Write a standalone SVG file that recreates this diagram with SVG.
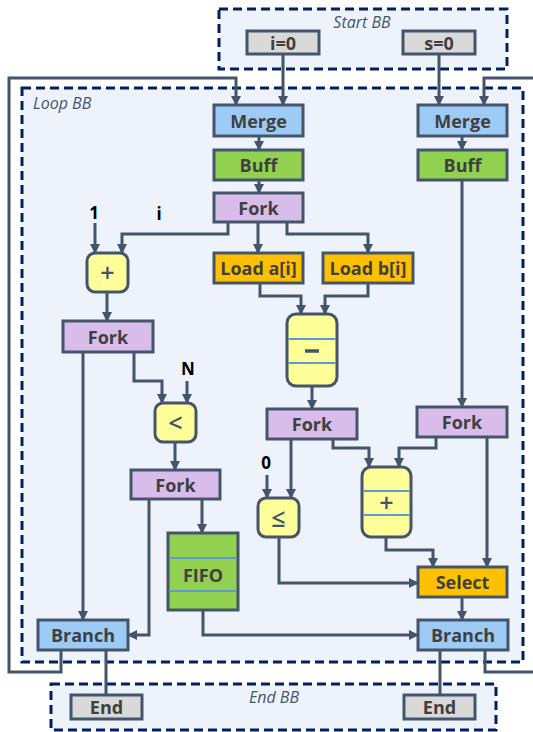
<svg xmlns="http://www.w3.org/2000/svg" width="533" height="732" viewBox="0 0 533 732">
  <style>
    .bb { fill: #EEF3FB; stroke: #002060; stroke-width: 3; stroke-dasharray: 9 5; }
    .bbl { font-family: "Open Sans", "Liberation Sans", sans-serif; font-style: italic; font-size: 16px; fill: #44546A; }
    .n { stroke: #44546A; stroke-width: 3; }
    .t { font-family: "Open Sans", "Liberation Sans", sans-serif; font-weight: 700; font-size: 18px; fill: #404040; text-anchor: middle; dominant-baseline: central; }
    .op { font-family: "Open Sans", "Liberation Sans", sans-serif; font-weight: 600; font-size: 25px; fill: #44546A; text-anchor: middle; dominant-baseline: central; }
    .lbl { font-family: "Open Sans", "Liberation Sans", sans-serif; font-weight: 700; font-size: 17px; fill: #000; text-anchor: middle; dominant-baseline: central; }
    .gray { fill: #D9D9D9; }
    .blue { fill: #9DCBF5; }
    .green { fill: #92D050; }
    .purple { fill: #D8BDEA; }
    .orange { fill: #FFC000; }
    .yellow { fill: #FFFF99; }
    .sep { stroke: #5B9BD5; stroke-width: 2; }
    .c { fill: none; stroke: #44546A; stroke-width: 3; }
    .a { marker-end: url(#ah); }
  </style>
  <defs>
    <marker id="ah" viewBox="0 0 10 10" refX="9" refY="5" markerWidth="10" markerHeight="10" markerUnits="userSpaceOnUse" orient="auto">
      <path d="M0,0 L10,5 L0,10 z" fill="#44546A"/>
    </marker>
  </defs>
  <rect width="533" height="732" fill="#fff"/>

  <!-- basic blocks -->
  <g id="start-bb">
    <rect class="bb" x="219" y="9" width="288" height="60"/>
    <text class="bbl" x="362" y="28" text-anchor="middle">Start BB</text>
  </g>
  <g id="loop-bb">
    <rect class="bb" x="22" y="88" width="501" height="574"/>
    <text class="bbl" x="33" y="109">Loop BB</text>
  </g>
  <g id="end-bb">
    <rect class="bb" x="51" y="684" width="445" height="46"/>
    <text class="bbl" x="274" y="703" text-anchor="middle">End BB</text>
  </g>

  <!-- connectors -->
  <g id="connectors">
    <path class="c a" d="M61,650 V672 H9 V78 H236 V105"/>
    <path class="c a" d="M283,54 V105"/>
    <path class="c a" d="M439,54 V105"/>
    <path class="c a" d="M540,78 H484 V105"/>
    <path class="c a" d="M259,136 V150"/>
    <path class="c a" d="M462,136 V150"/>
    <path class="c a" d="M259,180 V193"/>
    <path class="c a" d="M462,180 V407"/>
    <path class="c a" d="M228,222 V234 H122 V253"/>
    <path class="c a" d="M258,222 V253"/>
    <path class="c a" d="M287,222 V234 H368 V253"/>
    <path class="c a" d="M95,223 V253"/>
    <path class="c a" d="M107,292 V321"/>
    <path class="c a" d="M260,283 V296 H301 V314"/>
    <path class="c a" d="M368,283 V296 H325 V314"/>
    <path class="c a" d="M83,352 V620"/>
    <path class="c a" d="M134,352 V381 H162 V403"/>
    <path class="c a" d="M187,381 V403"/>
    <path class="c a" d="M175,442 V470"/>
    <path class="c a" d="M312,386 V409"/>
    <path class="c a" d="M149,499 V635 H128"/>
    <path class="c a" d="M202,499 V533"/>
    <path class="c a" d="M267,475 V498"/>
    <path class="c a" d="M291,439 V498"/>
    <path class="c a" d="M333,439 V448 H369 V467"/>
    <path class="c a" d="M436,437 V448 H399 V467"/>
    <path class="c a" d="M487,437 V567"/>
    <path class="c a" d="M386,537 V550 H433 V567"/>
    <path class="c a" d="M279,537 V583 H418"/>
    <path class="c a" d="M462,597 V620"/>
    <path class="c a" d="M203,610 V635 H418"/>
    <path class="c" d="M106,650 V695"/>
    <path class="c" d="M440,650 V695"/>
    <path class="c" d="M485,650 V672 H540"/>
  </g>

  <!-- constant inputs -->
  <g id="constants">
    <text class="lbl" x="94" y="212">1</text>
    <text class="lbl" x="159" y="213">i</text>
    <text class="lbl" x="188" y="368">N</text>
    <text class="lbl" x="266" y="462">0</text>
  </g>

  <!-- nodes -->
  <g id="i0"><rect class="n gray" x="247" y="31" width="72" height="23"/><text class="t" x="283" y="42.5">i=0</text></g>
  <g id="s0"><rect class="n gray" x="403" y="31" width="72" height="23"/><text class="t" x="439" y="42.5">s=0</text></g>
  <g id="merge-i"><rect class="n blue" x="214" y="105" width="89" height="31"/><text class="t" x="258.5" y="120.5">Merge</text></g>
  <g id="merge-s"><rect class="n blue" x="418" y="105" width="89" height="31"/><text class="t" x="462.5" y="120.5">Merge</text></g>
  <g id="buff-i"><rect class="n green" x="214" y="150" width="89" height="30"/><text class="t" x="258.5" y="165">Buff</text></g>
  <g id="buff-s"><rect class="n green" x="418" y="150" width="89" height="30"/><text class="t" x="462.5" y="165">Buff</text></g>
  <g id="fork-i"><rect class="n purple" x="214" y="193" width="89" height="29"/><text class="t" x="258.5" y="207.5">Fork</text></g>
  <g id="add-i"><rect class="n yellow" x="87" y="253" width="41" height="39" rx="8"/><text class="op" x="107.5" y="272">+</text></g>
  <g id="load-a"><rect class="n orange" x="214" y="253" width="89" height="30"/><text class="t" x="258.5" y="268">Load a[i]</text></g>
  <g id="load-b"><rect class="n orange" x="323" y="253" width="90" height="30"/><text class="t" x="368" y="268">Load b[i]</text></g>
  <g id="fork-inc"><rect class="n purple" x="63" y="321" width="90" height="31"/><text class="t" x="108" y="336.5">Fork</text></g>
  <g id="sub">
    <rect class="n yellow" x="287" y="314" width="50" height="72" rx="9"/>
    <line class="sep" x1="288.5" y1="339" x2="335.5" y2="339"/>
    <line class="sep" x1="288.5" y1="363" x2="335.5" y2="363"/>
    <line x1="305" y1="351" x2="319" y2="351" stroke="#44546A" stroke-width="3.5"/>
  </g>
  <g id="cmp-lt"><rect class="n yellow" x="155" y="403" width="41" height="39" rx="8"/><text class="op" x="175.5" y="421.5">&lt;</text></g>
  <g id="fork-diff"><rect class="n purple" x="267" y="409" width="90" height="30"/><text class="t" x="312" y="424">Fork</text></g>
  <g id="fork-s"><rect class="n purple" x="417" y="407" width="90" height="30"/><text class="t" x="462" y="422">Fork</text></g>
  <g id="fork-cond"><rect class="n purple" x="131" y="470" width="89" height="29"/><text class="t" x="175.5" y="484.5">Fork</text></g>
  <g id="cmp-le"><rect class="n yellow" x="258" y="498" width="41" height="39" rx="8"/><text class="op" x="278.5" y="516.5">≤</text></g>
  <g id="add-s">
    <rect class="n yellow" x="362" y="467" width="49" height="70" rx="9"/>
    <line class="sep" x1="363.5" y1="491" x2="409.5" y2="491"/>
    <line class="sep" x1="363.5" y1="515" x2="409.5" y2="515"/>
    <text class="op" x="386.5" y="502">+</text>
  </g>
  <g id="fifo">
    <rect class="n green" x="168" y="533" width="70" height="77"/>
    <line class="sep" x1="169.5" y1="558" x2="236.5" y2="558"/>
    <line class="sep" x1="169.5" y1="591" x2="236.5" y2="591"/>
    <text class="t" x="203" y="574.5">FIFO</text>
  </g>
  <g id="select"><rect class="n orange" x="418" y="567" width="89" height="30"/><text class="t" x="462.5" y="582">Select</text></g>
  <g id="branch-i"><rect class="n blue" x="38" y="620" width="90" height="30"/><text class="t" x="83" y="635">Branch</text></g>
  <g id="branch-s"><rect class="n blue" x="418" y="620" width="90" height="30"/><text class="t" x="463" y="635">Branch</text></g>
  <g id="end-i"><rect class="n gray" x="71" y="695" width="71" height="24"/><text class="t" x="106.5" y="707">End</text></g>
  <g id="end-s"><rect class="n gray" x="404" y="695" width="71" height="24"/><text class="t" x="439.5" y="707">End</text></g>
</svg>
